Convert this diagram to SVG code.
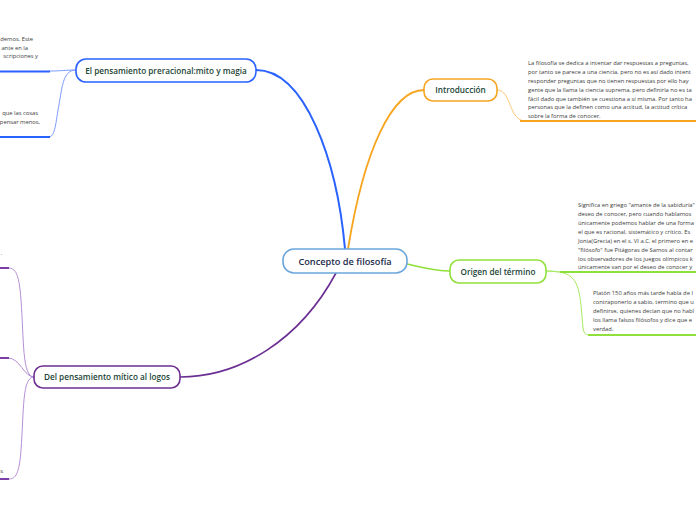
<svg xmlns="http://www.w3.org/2000/svg" width="696" height="520" viewBox="0 0 696 520">
<style>
.node{fill:#fff;stroke-width:1.6}
.lbl{font-family:"Open Sans","Noto Sans",sans-serif;font-size:8.2px;font-weight:600;fill:#1a4434;text-anchor:middle}
.sub{font-family:"Open Sans","Noto Sans",sans-serif;font-size:5.8px;fill:#3a3a3a}
.c{fill:none}
</style>
<rect width="696" height="520" fill="#fff"/>
<g id="connectors">
  <path class="c" d="M345,249 C337,160 305,70 256,70" stroke="#2a62ff" stroke-width="2"/>
  <path class="c" d="M348,249 C364,150 392,90 424,90" stroke="#f7a51f" stroke-width="1.8"/>
  <path class="c" d="M407,264 C425,268 435,271 450,271" stroke="#8fe03a" stroke-width="1.6"/>
  <path class="c" d="M336,273 C300,340 240,377 180,377" stroke="#6b2f93" stroke-width="1.6"/>
  <path class="c" d="M497,90 C512,90 508,121 526,121" stroke="#fbc877" stroke-width="1"/>
  <path class="c" d="M546,271 C552,271 555,272 562,272" stroke="#a6ea62" stroke-width="1"/>
  <path class="c" d="M546,271 C574,271 578,280 581,305 L583,328 C584,334 586,335 590,335" stroke="#a6ea62" stroke-width="1"/>
  <path class="c" d="M76,70 C65,70 62,71 50,71" stroke="#7a9bff" stroke-width="1"/>
  <path class="c" d="M76,70 C62,70 62,90 58,110 C55,130 54,137 48,137" stroke="#7a9bff" stroke-width="1"/>
  <path class="c" d="M34,377 C22,377 24,340 21,300 C19,270 14,268 8,268" stroke="#b58fd6" stroke-width="1"/>
  <path class="c" d="M34,377 C24,377 20,358 8,358" stroke="#b58fd6" stroke-width="1"/>
  <path class="c" d="M34,377 C22,377 24,410 21,450 C19,478 14,479 8,479" stroke="#b58fd6" stroke-width="1"/>
</g>
<g id="underlines">
  <line x1="520" y1="121" x2="696" y2="121" stroke="#f7a51f" stroke-width="2"/>
  <line x1="560" y1="272" x2="696" y2="272" stroke="#8fe03a" stroke-width="2"/>
  <line x1="588" y1="335" x2="696" y2="335" stroke="#8fe03a" stroke-width="2"/>
  <line x1="0" y1="71.5" x2="50" y2="71.5" stroke="#2a62ff" stroke-width="2"/>
  <line x1="0" y1="137" x2="50" y2="137" stroke="#2a62ff" stroke-width="2"/>
  <line x1="0" y1="268" x2="9" y2="268" stroke="#7b3fa6" stroke-width="2"/>
  <line x1="0" y1="358" x2="9" y2="358" stroke="#7b3fa6" stroke-width="2"/>
  <line x1="0" y1="479" x2="9" y2="479" stroke="#7b3fa6" stroke-width="2"/>
</g>
<g id="central">
  <rect class="node" x="283" y="249" width="124" height="24" rx="11" stroke="#6aa6dc"/>
  <text class="lbl" x="345" y="264.5" style="font-size:9.2px;fill:#1b2b4b">Concepto de filosofía</text>
</g>
<g id="introduccion">
  <rect class="node" x="424" y="79" width="73" height="22" rx="9" stroke="#f7a51f"/>
  <text class="lbl" x="460.5" y="93">Introducción</text>
</g>
<g id="origen">
  <rect class="node" x="450" y="260" width="96" height="23" rx="9" stroke="#8fe03a"/>
  <text class="lbl" x="498" y="274.5">Origen del término</text>
</g>
<g id="prerracional">
  <rect class="node" x="76" y="59" width="180" height="23" rx="10" stroke="#2a62ff"/>
  <text class="lbl" x="166" y="73.5">El pensamiento preracional:mito y magia</text>
</g>
<g id="mitico">
  <rect class="node" x="34" y="366" width="146" height="22" rx="9" stroke="#6b2f93"/>
  <text class="lbl" x="107" y="380">Del pensamiento mítico al logos</text>
</g>
<g id="intro-text">
  <text class="sub" x="528"><tspan x="528" y="65">La filosofía se dedica a intentar dar respuestas a preguntas,</tspan><tspan x="528" y="74">por tanto se parece a una ciencia, pero no es así dado intent</tspan><tspan x="528" y="83">responder preguntas que no tienen respuestas por ello hay</tspan><tspan x="528" y="92">gente que la llama la ciencia suprema, pero definirla no es ta</tspan><tspan x="528" y="100.5">fácil dado que también se cuestiona a sí misma. Por tanto ha</tspan><tspan x="528" y="109">personas que la definen como una actitud, la actitud crítica</tspan><tspan x="528" y="117.5">sobre la forma de conocer.</tspan></text>
</g>
<g id="origen-text1">
  <text class="sub"><tspan x="578" y="207">Significa en griego "amante de la sabiduría"</tspan><tspan x="578" y="216">deseo de conocer, pero cuando hablamos</tspan><tspan x="578" y="225">únicamente podemos hablar de una forma</tspan><tspan x="578" y="234">el que es racional, sistemático y crítico. Es</tspan><tspan x="578" y="243">Jonia(Grecia) en el s. VI a.C, el primero en e</tspan><tspan x="578" y="252">"filósofo" fue Pitágoras de Samos al contar</tspan><tspan x="578" y="260.5">los observadores de los juegos olímpicos k</tspan><tspan x="578" y="269">únicamente van por el deseo de conocer y</tspan></text>
</g>
<g id="origen-text2">
  <text class="sub"><tspan x="593" y="295">Platón 150 años más tarde habla de l</tspan><tspan x="593" y="304">contraponerlo a sabio, termino que u</tspan><tspan x="593" y="313">definirse, quienes decían que no habl</tspan><tspan x="593" y="322">los llama falsos filósofos y dice que e</tspan><tspan x="593" y="330.5">verdad.</tspan></text>
</g>
<g id="prerracional-text">
  <text class="sub" text-anchor="end"><tspan x="33" y="41">demos. Este</tspan><tspan x="28" y="49.5">ante en la</tspan><tspan x="38" y="58">scripciones y</tspan></text>
  <text class="sub" text-anchor="end"><tspan x="38" y="115">que las cosas</tspan><tspan x="40" y="124">pensar menos,</tspan></text>
</g>
<g id="mitico-text">
  <text class="sub" x="2" y="255" text-anchor="end">.</text>
  <text class="sub" x="3" y="473" text-anchor="end">s</text>
</g>
</svg>
